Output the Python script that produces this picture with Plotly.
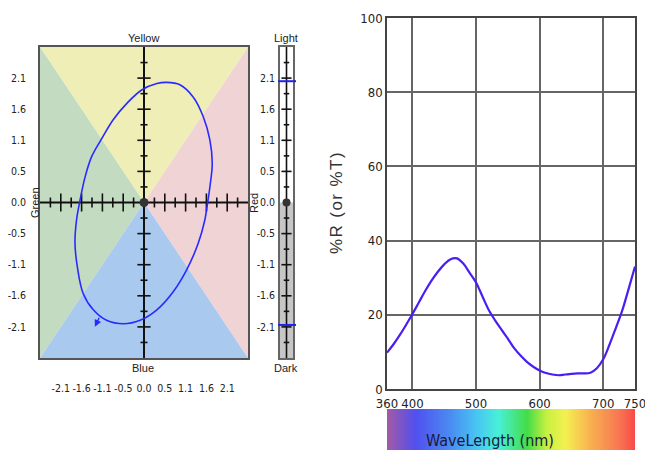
import plotly.graph_objects as go

W, H = 645, 450

# ---- colour-difference plane (a/b style) -----------------------------------
AXIS_MAX = 8 / 3                       # plane spans +/- 2.667 units
TICK_STEP = 4 / 15                     # minor step; every 2nd tick is labelled
PLANE_TICK_TEXT = ["-2.1", "-1.6", "-1.1", "-0.5", "0.0", "0.5", "1.1", "1.6", "2.1"]

# closed colour path drawn in the plane
GAMUT_X = [-0.06, 0.33, 0.58, 0.92, 1.26, 1.52, 1.69, 1.75, 1.69, 1.63, 1.56, 1.39,
           1.09, 0.75, 0.33, -0.10, -0.53, -0.96, -1.30, -1.56, -1.71, -1.77, -1.73,
           -1.64, -1.51, -1.34, -1.08, -0.79, -0.44, -0.06]
GAMUT_Y = [1.93, 2.04, 2.06, 2.02, 1.81, 1.47, 1.07, 0.67, 0.27, -0.01, -0.30, -0.70,
           -1.16, -1.53, -1.84, -2.02, -2.08, -2.02, -1.84, -1.56, -1.10, -0.70, -0.30,
           0.04, 0.44, 0.79, 1.10, 1.42, 1.70, 1.93]
ARROW_TAIL = (-1.13, -1.95)
ARROW_TIP = (-1.26, -2.13)

# lightness bar markers
LIGHTNESS_MARKS = [2.08, -2.10]

# ---- reflectance spectrum ---------------------------------------------------
WAVELENGTH = list(range(360, 751, 10))
REFLECTANCE = [9.8, 12.0, 14.5, 17.3, 20.2, 23.3, 26.4, 29.2, 31.6, 33.6,
               35.0, 35.2, 33.8, 31.3, 28.7, 25.0, 21.3, 18.5, 16.0, 13.6,
               11.0, 9.0, 7.3, 6.0, 5.0, 4.3, 3.9, 3.7, 3.9, 4.1,
               4.2, 4.2, 4.4, 5.6, 8.0, 12.0, 16.5, 21.2, 27.0, 33.0]
WL_TICKS = [360, 400, 500, 600, 700, 750]
R_TICKS = [0, 20, 40, 60, 80, 100]

SPECTRUM_STOPS_NM = [360, 405, 460, 500, 535, 580, 610, 640, 680, 725, 750]
SPECTRUM_COLORS = ["#a45aa4", "#5050ee", "#4a8cf2", "#48c4f2", "#48f0d8", "#44dc48",
                   "#c4f040", "#f4f050", "#f8b050", "#f87652", "#f84848"]

NARROW = "Liberation Sans Narrow, DejaVu Sans Condensed, Liberation Sans, Arial"
SANS = "Liberation Sans, Arial"
TXT = "#222222"


def fx(p):
    return p / W


def fy(p):
    return 1 - p / H


PLANE_X = [fx(40), fx(248)]
PLANE_Y = [fy(358), fy(47)]
BAR_X = [fx(280), fx(293)]
SPEC_X = [fx(387), fx(635)]
SPEC_Y = [fy(389), fy(18)]
RAINBOW_Y = [0, fy(409)]

fig = go.Figure()

# tick segments along the centre cross of the plane
ks = [k for k in range(-9, 10) if k != 0]
hx, hy, vx, vy = [], [], [], []
for k in ks:
    t = k * TICK_STEP
    major = k % 2 == 0
    dy = 0.155 if major else 0.085
    dx = 0.17 if major else 0.09
    hx += [t, t, None]
    hy += [-dy, dy, None]
    vx += [-dx, dx, None]
    vy += [t, t, None]

fig.add_trace(go.Scatter(x=[-AXIS_MAX, AXIS_MAX, None, 0, 0],
                         y=[0, 0, None, -AXIS_MAX, AXIS_MAX],
                         mode="lines", line=dict(color="#111111", width=2),
                         hoverinfo="skip", xaxis="x", yaxis="y"))
fig.add_trace(go.Scatter(x=hx + vx, y=hy + vy, mode="lines",
                         line=dict(color="#111111", width=1.6),
                         hoverinfo="skip", xaxis="x", yaxis="y"))
fig.add_trace(go.Scatter(x=GAMUT_X, y=GAMUT_Y, mode="lines",
                         line=dict(color="#2a2aff", width=1.6, shape="spline", smoothing=1.0),
                         hoverinfo="skip", xaxis="x", yaxis="y"))
fig.add_trace(go.Scatter(x=[0], y=[0], mode="markers",
                         marker=dict(color="#333333", size=9),
                         hoverinfo="skip", xaxis="x", yaxis="y"))

# lightness bar: centre line and ticks
bx, by = [], []
for k in ks:
    t = k * TICK_STEP
    d = 0.78 if k % 2 == 0 else 0.42
    bx += [-d, d, None]
    by += [t, t, None]
fig.add_trace(go.Scatter(x=[0, 0, None] + bx, y=[-AXIS_MAX, AXIS_MAX, None] + by,
                         mode="lines", line=dict(color="#111111", width=1.6),
                         hoverinfo="skip", xaxis="x2", yaxis="y2"))
fig.add_trace(go.Scatter(x=[0], y=[0], mode="markers",
                         marker=dict(color="#333333", size=8),
                         hoverinfo="skip", xaxis="x2", yaxis="y2"))

# spectrum curve
fig.add_trace(go.Scatter(x=WAVELENGTH, y=REFLECTANCE, mode="lines",
                         line=dict(color="#4a1ef2", width=2.2, shape="spline", smoothing=1.0),
                         hoverinfo="skip", xaxis="x3", yaxis="y3"))

# rainbow wavelength strip
strip_nm = list(range(360, 751))
span = SPECTRUM_STOPS_NM[-1] - SPECTRUM_STOPS_NM[0]
cscale = [[(s - SPECTRUM_STOPS_NM[0]) / span, c] for s, c in zip(SPECTRUM_STOPS_NM, SPECTRUM_COLORS)]
fig.add_trace(go.Heatmap(x=strip_nm, y=[0], z=[strip_nm], colorscale=cscale,
                         zmin=360, zmax=750, showscale=False, hoverinfo="skip",
                         xaxis="x4", yaxis="y4"))

# plane background wedges and bar fills
A = AXIS_MAX
wedges = [
    (f"M 0 0 L {-A} {A} L {A} {A} Z", "#eeeeb6"),
    (f"M 0 0 L {-A} {A} L {-A} {-A} Z", "#c3dcc1"),
    (f"M 0 0 L {A} {A} L {A} {-A} Z", "#f0d3d5"),
    (f"M 0 0 L {-A} {-A} L {A} {-A} Z", "#a9c9ef"),
]
shapes = [dict(type="path", path=p, xref="x", yref="y", fillcolor=c,
               line=dict(width=0), layer="below") for p, c in wedges]
shapes.append(dict(type="rect", xref="x2", yref="y2", x0=-1, x1=1, y0=-A, y1=0,
                   fillcolor="#c6c6c6", line=dict(width=0), layer="below"))
for v in LIGHTNESS_MARKS:
    shapes.append(dict(type="line", xref="paper", yref="y2", x0=fx(278), x1=fx(296),
                       y0=v, y1=v, line=dict(color="#2222ee", width=2)))

ann_font = dict(family=SANS, size=11, color=TXT)
annotations = [
    dict(text="Yellow", x=fx(143), y=fy(38)),
    dict(text="Blue", x=fx(143), y=fy(368)),
    dict(text="Green", x=fx(35), y=fy(203), textangle=-90),
    dict(text="Red", x=fx(254), y=fy(203), textangle=-90),
    dict(text="Light", x=fx(286), y=fy(38)),
    dict(text="Dark", x=fx(286), y=fy(368)),
]
for a in annotations:
    a.update(xref="paper", yref="paper", showarrow=False, xanchor="center",
             yanchor="middle", font=ann_font)
annotations.append(dict(text="%\u200aR\u200a \u200a(\u200ao\u200ar\u200a \u200a%\u200aT\u200a)",
                        x=fx(336), y=fy(203), xref="paper", yref="paper",
                        showarrow=False, xanchor="center", yanchor="middle", textangle=-90,
                        font=dict(family=SANS, size=17, color="#333333")))
annotations.append(dict(text="WaveLength (nm)", x=fx(490), y=fy(440), xref="paper", yref="paper",
                        showarrow=False, xanchor="center", yanchor="middle",
                        font=dict(family=NARROW, size=16, color="#1a1a40")))
annotations.append(dict(x=ARROW_TIP[0], y=ARROW_TIP[1], ax=ARROW_TAIL[0], ay=ARROW_TAIL[1],
                        xref="x", yref="y", axref="x", ayref="y", text="", showarrow=True,
                        arrowhead=2, arrowsize=1, arrowwidth=1.4, arrowcolor="#2a2aff"))

plane_ticks = [k * 2 * TICK_STEP for k in range(-4, 5)]
tick_font = dict(family=NARROW, size=10.5, color=TXT)
spec_font = dict(family=NARROW, size=13, color=TXT)

fig.update_layout(
    width=W, height=H, margin=dict(l=0, r=0, t=0, b=0, autoexpand=False),
    paper_bgcolor="white", plot_bgcolor="white", showlegend=False,
    shapes=shapes, annotations=annotations,
    xaxis=dict(domain=PLANE_X, range=[-A, A], showgrid=False, zeroline=False,
               showline=True, mirror=True, linecolor="#555555", linewidth=1.5,
               tickvals=plane_ticks, ticktext=PLANE_TICK_TEXT, ticks="", tickangle=0,
               ticklabelstandoff=20, tickfont=tick_font, anchor="y", automargin=False,
               ticklabeloverflow="allow"),
    yaxis=dict(domain=PLANE_Y, range=[-A, A], showgrid=False, zeroline=False,
               showline=True, mirror=True, linecolor="#555555", linewidth=1.5,
               tickvals=plane_ticks, ticktext=PLANE_TICK_TEXT, ticks="",
               ticklabelstandoff=10, tickfont=tick_font, anchor="x", automargin=False,
               ticklabeloverflow="allow"),
    xaxis2=dict(domain=BAR_X, range=[-1, 1], showgrid=False, zeroline=False,
                showline=True, mirror=True, linecolor="#666666", linewidth=1.5,
                showticklabels=False, anchor="y2", automargin=False),
    yaxis2=dict(domain=PLANE_Y, range=[-A, A], showgrid=False, zeroline=False,
                showline=True, mirror=True, linecolor="#666666", linewidth=1.5,
                tickvals=plane_ticks, ticktext=PLANE_TICK_TEXT, ticks="",
                ticklabelstandoff=1, tickfont=tick_font, anchor="x2", automargin=False,
                ticklabeloverflow="allow"),
    xaxis3=dict(domain=SPEC_X, range=[360, 750], tickvals=WL_TICKS,
                ticktext=[str(v) for v in WL_TICKS], showgrid=True, gridcolor="#666666",
                gridwidth=1.5, zeroline=False, showline=True, mirror=True,
                linecolor="#444444", linewidth=1.5, ticks="", tickangle=0,
                ticklabelstandoff=2, tickfont=spec_font, anchor="y3", automargin=False,
                ticklabeloverflow="allow"),
    yaxis3=dict(domain=SPEC_Y, range=[0, 100], tickvals=R_TICKS,
                ticktext=[str(v) for v in R_TICKS], showgrid=True, gridcolor="#666666",
                gridwidth=1.5, zeroline=False, showline=True, mirror=True,
                linecolor="#444444", linewidth=1.5, ticks="", ticklabelstandoff=0,
                tickfont=spec_font, anchor="x3", automargin=False,
                ticklabeloverflow="allow"),
    xaxis4=dict(domain=SPEC_X, range=[360, 750], visible=False, anchor="y4"),
    yaxis4=dict(domain=RAINBOW_Y, range=[-0.5, 0.5], visible=False, anchor="x4"),
)

fig.write_html("out.html")
